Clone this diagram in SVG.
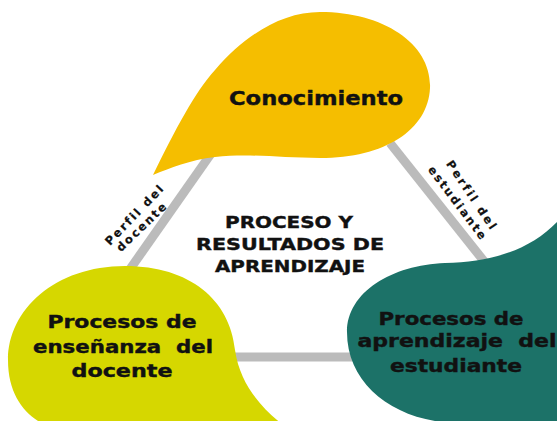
<svg xmlns="http://www.w3.org/2000/svg" width="557" height="421" viewBox="0 0 557 421">
<style>
.t{font-family:"DejaVu Sans","Open Sans",sans-serif;font-weight:700;fill:#111;stroke:#111;stroke-width:0.4;text-anchor:middle}
.lbl{font-family:"DejaVu Sans","Open Sans",sans-serif;font-weight:700;fill:#111;stroke:#111;stroke-width:0.2;text-anchor:middle;font-size:11.5px;font-variant-ligatures:none}
.edge{stroke:#BBBBBB;stroke-width:9;fill:none;stroke-linecap:butt}
</style>
<rect width="557" height="421" fill="#FFFFFF"/>
<g id="connectors">
<line class="edge" x1="215" y1="148" x2="128" y2="272"/>
<line class="edge" x1="390" y1="143" x2="487" y2="265"/>
<line class="edge" x1="225" y1="357" x2="355" y2="357"/>
</g>
<g id="node-conocimiento">
<path fill="#F5BE00" d="M153,175 C175,130 195,92 215,70 C245,35 282,12 320,12 C385,12 432,45 430,88 C428,130 385,158 320,158 C280,158 250,153 215,157 C190,160 170,168 153,175 Z"/>
<text class="t" x="316" y="105" font-size="20" textLength="174" lengthAdjust="spacingAndGlyphs">Conocimiento</text>
</g>
<g id="node-docente">
<path fill="#D6D700" d="M283,425 C262,408 240,385 235,350 C230,300 190,266 125,266 C55,266 8,310 8,360 C8,395 25,415 45,425 Z"/>
<text class="t" x="122" y="328" font-size="17.5" textLength="149" lengthAdjust="spacingAndGlyphs">Procesos de</text>
<text class="t" x="123" y="353" font-size="17.5" textLength="180" lengthAdjust="spacingAndGlyphs" xml:space="preserve">enseñanza  del</text>
<text class="t" x="122" y="377" font-size="17.5" textLength="101" lengthAdjust="spacingAndGlyphs">docente</text>
</g>
<g id="node-estudiante">
<path fill="#1C7268" d="M557,222 C530,250 492,262 445,263 C392,265 347,292 347,332 C347,385 395,421 455,423 L557,423 Z"/>
<text class="t" x="451" y="325" font-size="17.5" textLength="145" lengthAdjust="spacingAndGlyphs">Procesos de</text>
<text class="t" x="457" y="347" font-size="17.5" textLength="199" lengthAdjust="spacingAndGlyphs" xml:space="preserve">aprendizaje  del</text>
<text class="t" x="456" y="372" font-size="17.5" textLength="132" lengthAdjust="spacingAndGlyphs">estudiante</text>
</g>
<g id="node-centro">
<text class="t" x="289" y="228" font-size="16.5" textLength="128" lengthAdjust="spacingAndGlyphs">PROCESO Y</text>
<text class="t" x="290" y="250" font-size="16.5" textLength="188" lengthAdjust="spacingAndGlyphs">RESULTADOS DE</text>
<text class="t" x="290" y="272" font-size="16.5" textLength="150" lengthAdjust="spacingAndGlyphs">APRENDIZAJE</text>
</g>
<g id="label-docente">
<text class="lbl" transform="translate(137,218) rotate(-46)" textLength="78" lengthAdjust="spacing">Perfil del</text>
<text class="lbl" transform="translate(144,230) rotate(-44)" textLength="64" lengthAdjust="spacing">docente</text>
</g>
<g id="label-estudiante">
<text class="lbl" transform="translate(468,197) rotate(56)" textLength="80" lengthAdjust="spacing">Perfil del</text>
<text class="lbl" transform="translate(454,205) rotate(53)" textLength="88" lengthAdjust="spacing">estudiante</text>
</g>
</svg>
